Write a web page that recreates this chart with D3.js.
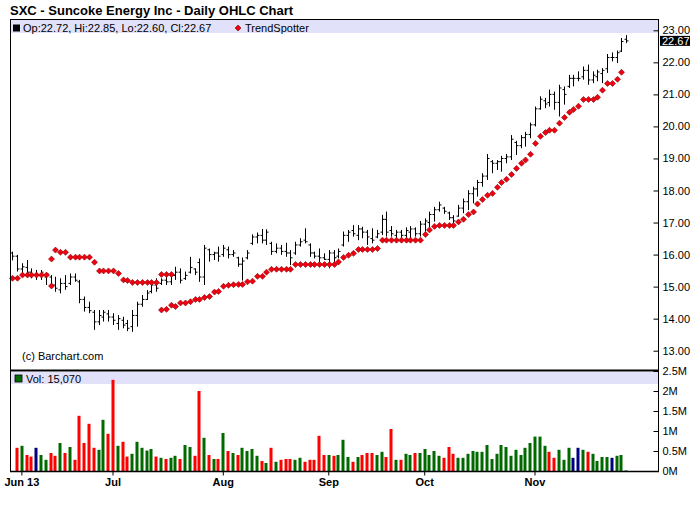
<!DOCTYPE html>
<html>
<head>
<meta charset="utf-8">
<title>SXC Daily OHLC</title>
<script src="https://cdn.jsdelivr.net/npm/d3@7"></script>
<style>
  body { margin: 0; background: #fff; }
  text { font-family: "Liberation Sans", Arial, sans-serif; }
</style>
</head>
<body>
<div id="chart"></div>
<script>
// trading days, May 30 - Nov 29 2013
var days = [
  "05-30","05-31",
  "06-03","06-04","06-05","06-06","06-07","06-10","06-11","06-12","06-13","06-14",
  "06-17","06-18","06-19","06-20","06-21","06-24","06-25","06-26","06-27","06-28",
  "07-01","07-02","07-03","07-05","07-08","07-09","07-10","07-11","07-12","07-15","07-16",
  "07-17","07-18","07-19","07-22","07-23","07-24","07-25","07-26","07-29","07-30","07-31",
  "08-01","08-02","08-05","08-06","08-07","08-08","08-09","08-12","08-13","08-14","08-15",
  "08-16","08-19","08-20","08-21","08-22","08-23","08-26","08-27","08-28","08-29","08-30",
  "09-03","09-04","09-05","09-06","09-09","09-10","09-11","09-12","09-13","09-16",
  "09-17","09-18","09-19","09-20","09-23","09-24","09-25","09-26","09-27","09-30",
  "10-01","10-02","10-03","10-04","10-07","10-08","10-09","10-10","10-11","10-14","10-15","10-16",
  "10-17","10-18","10-21","10-22","10-23","10-24","10-25","10-28","10-29","10-30","10-31",
  "11-01","11-04","11-05","11-06","11-07","11-08","11-11","11-12","11-13","11-14",
  "11-15","11-18","11-19","11-20","11-21","11-22","11-25","11-26","11-27","11-29"
];

var open = [
  16.05,15.95,15.55,15.60,15.45,15.38,15.35,15.30,15.30,15.05,
  14.90,15.10,15.10,15.30,15.15,14.60,14.35,14.20,13.90,14.05,
  14.15,14.05,13.85,13.95,13.85,13.75,14.10,14.45,14.60,14.85,
  15.05,15.10,15.20,15.15,15.35,15.45,15.25,15.45,15.55,15.75,
  15.30,16.15,16.00,16.05,16.00,16.15,16.00,15.90,15.70,15.90,
  16.35,16.55,16.60,16.45,16.35,16.10,16.20,16.10,16.05,16.05,
  16.30,16.45,16.30,16.05,15.95,15.90,15.85,16.05,15.95,16.30,
  16.60,16.75,16.60,16.80,16.70,16.50,16.55,16.70,17.10,16.75,
  16.60,16.70,16.60,16.70,16.80,16.65,16.95,17.00,17.25,17.40,
  17.45,17.30,17.15,17.20,17.45,17.65,17.90,18.05,18.25,18.45,
  18.90,18.85,18.90,19.00,19.05,19.50,19.40,19.65,19.75,20.05,
  20.55,20.80,20.75,21.00,20.75,21.15,21.25,21.50,21.50,21.55,
  21.75,21.45,21.55,21.65,21.80,22.15,22.15,22.35,22.72
];
var high = [
  16.09,15.99,15.73,15.83,15.57,15.52,15.52,15.43,15.36,15.31,
  15.26,15.36,15.41,15.41,15.21,14.69,14.53,14.27,14.27,14.27,
  14.27,14.17,14.11,14.06,13.96,14.27,14.53,14.74,14.89,15.15,
  15.26,15.26,15.31,15.41,15.62,15.57,15.47,15.93,15.57,15.88,
  16.30,16.19,16.09,16.25,16.30,16.25,16.14,15.93,15.91,16.14,
  16.63,16.69,16.80,16.79,16.40,16.35,16.30,16.37,16.14,16.40,
  16.51,16.82,16.35,16.09,16.19,16.04,16.14,16.14,16.19,16.72,
  16.77,16.92,16.92,16.87,16.77,16.82,16.77,17.24,17.34,16.89,
  16.77,16.77,16.85,16.89,16.85,17.05,17.13,17.34,17.49,17.65,
  17.49,17.34,17.23,17.55,17.75,18.01,18.12,18.33,18.54,19.14,
  18.95,18.95,19.08,19.14,19.73,19.55,19.73,19.83,20.12,20.62,
  20.94,20.89,21.15,21.09,21.30,21.25,21.61,21.61,21.72,21.87,
  21.93,21.72,21.77,21.82,22.26,22.31,22.37,22.76,22.85
];
var low = [
  15.82,15.47,15.36,15.31,15.26,15.21,15.21,15.05,14.99,14.84,
  14.79,14.90,15.05,15.15,14.48,14.22,14.17,13.65,13.80,13.91,
  13.91,13.80,13.65,13.70,13.61,13.59,13.75,14.37,14.58,14.79,
  14.84,15.05,15.05,15.05,15.21,15.10,15.21,15.41,15.36,15.15,
  15.05,15.78,15.83,15.78,15.93,15.88,15.93,15.62,15.19,15.85,
  16.30,16.35,16.35,16.30,15.99,16.04,15.99,15.93,15.67,15.99,
  16.25,16.35,15.93,15.88,15.62,15.83,15.57,15.67,15.88,16.25,
  16.40,16.56,16.45,16.51,16.30,16.35,16.51,16.61,16.56,16.56,
  16.45,16.51,16.45,16.45,16.56,16.56,16.71,16.85,17.03,17.34,
  17.27,17.08,16.97,17.18,17.29,17.39,17.60,17.81,18.12,18.33,
  18.54,18.64,18.59,18.85,18.95,19.11,19.32,19.37,19.63,20.00,
  20.52,20.57,20.62,20.52,20.31,20.68,21.20,21.25,21.41,21.46,
  21.30,21.35,21.41,21.35,21.67,22.03,21.98,22.32,22.60
];
var close = [
  15.95,15.55,15.62,15.45,15.38,15.38,15.45,15.40,15.05,14.95,
  15.10,15.00,15.30,15.20,14.60,14.35,14.25,13.90,14.10,14.20,
  14.05,13.95,14.00,13.80,13.70,14.10,14.45,14.60,14.80,15.05,
  14.95,15.20,15.15,15.35,15.45,15.20,15.35,15.60,15.45,15.30,
  16.20,16.00,16.05,15.95,16.20,16.00,16.05,15.70,15.80,16.05,
  16.55,16.60,16.45,16.70,16.10,16.20,16.10,16.05,15.90,16.30,
  16.40,16.40,16.05,15.95,15.90,15.85,16.05,15.90,16.10,16.60,
  16.70,16.65,16.80,16.70,16.55,16.45,16.65,17.10,16.70,16.65,
  16.70,16.60,16.75,16.80,16.65,16.95,17.05,17.25,17.40,17.55,
  17.35,17.15,17.05,17.45,17.65,17.90,18.05,18.25,18.45,19.00,
  18.85,18.90,19.00,19.05,19.60,19.40,19.65,19.75,20.05,20.55,
  20.85,20.70,21.00,20.75,21.20,21.00,21.50,21.50,21.50,21.75,
  21.45,21.60,21.70,21.75,22.15,22.15,22.30,22.65,22.67
];

// TrendSpotter: support below price / resistance above price
var trendLow = [
  15.26,15.26,15.36,15.36,15.36,15.36,15.36,15.36,15.02,null,
  null,null,null,null,null,null,null,null,null,null,
  null,null,null,null,null,null,null,null,null,null,
  null,14.27,14.29,14.42,14.38,14.49,14.49,14.53,14.60,14.60,
  14.66,14.69,14.83,14.85,15.01,15.04,15.06,15.07,15.07,15.15,
  15.17,15.32,15.32,15.45,15.54,15.54,15.54,15.54,15.54,15.69,
  15.69,15.69,15.69,15.69,15.69,15.69,15.69,15.69,15.77,15.91,
  15.98,16.04,16.16,16.16,16.16,16.16,16.19,16.45,16.45,16.45,
  16.45,16.45,16.45,16.45,16.45,16.45,16.63,16.77,16.88,16.91,
  16.91,16.91,16.91,17.02,17.10,17.25,17.33,17.58,17.72,17.85,
  17.91,18.10,18.25,18.35,18.50,18.69,18.85,18.95,19.13,19.47,
  19.69,19.81,19.88,19.88,20.10,20.28,20.44,20.53,20.63,20.84,
  20.84,20.84,20.91,21.13,21.34,21.34,21.47,21.69,null
];
var trendHigh = [
  null,null,null,null,null,null,null,null,15.86,16.14,
  16.07,16.07,15.92,15.92,15.92,15.92,15.92,15.76,15.49,15.49,
  15.49,15.49,15.41,15.21,15.19,15.13,15.13,15.13,15.13,15.13,
  15.13,15.38,15.38,15.38
];

// volume in millions of shares, and direction (u up, d down, n unchanged)
var volume = [
  null,0.58,0.63,0.40,0.36,0.58,0.40,0.28,0.45,0.38,
  0.70,0.45,0.60,0.28,1.38,0.70,1.18,0.58,0.53,1.28,
  0.93,2.28,0.63,0.73,0.36,0.43,0.73,0.58,0.51,0.55,
  0.36,0.33,0.30,0.33,0.38,0.30,0.65,0.60,0.38,2.00,
  0.83,0.40,0.30,0.30,0.95,0.50,0.45,0.40,0.58,0.50,
  0.55,0.38,0.25,0.20,0.58,0.23,0.28,0.30,0.30,0.28,
  0.33,0.23,0.28,0.28,0.88,0.40,0.40,0.38,0.40,0.78,
  0.35,0.23,0.35,0.40,0.45,0.45,0.40,0.48,0.35,1.05,
  0.28,0.28,0.43,0.40,0.45,0.45,0.55,0.40,0.50,0.38,
  0.33,0.60,0.43,0.33,0.33,0.43,0.50,0.48,0.48,0.65,
  0.30,0.43,0.65,0.60,0.38,0.53,0.40,0.58,0.70,0.86,
  0.86,0.63,0.48,0.33,0.53,0.28,0.58,0.33,0.58,0.53,
  0.48,0.43,0.25,0.35,0.35,0.33,0.38,0.40,0.015
];
var volDir = (
  "-duddnuudd" + "ududdddduu" + "ddudduuuuu" + "duduuduudd" + "ududududuu" +
  "uudududddu" + "uddddduduu" + "ududdduudd" + "uduuduuuuu" + "ddduuuuuuu" +
  "uuuuuuuuuu" + "uudduuunnu" + "duuuunuuu").split("");

var monthTicks = ["06-03", "06-28", "08-01", "09-03", "10-01", "11-01"];
var monthLabels = ["Jun 13", "Jul", "Aug", "Sep", "Oct", "Nov"];
var priceTicks = [13, 14, 15, 16, 17, 18, 19, 20, 21, 22, 23];
var volTicks = [0, 0.5, 1, 1.5, 2, 2.5];

var title = "SXC - Suncoke Energy Inc - Daily OHLC Chart";
var priceLegend = "Op:22.72, Hi:22.85, Lo:22.60, Cl:22.67";
var volLegend = "Vol: 15,070";
var lastPrice = 22.67;

var W = 700, H = 512;
var left = 10, right = 658;
var pTop = 19, pBot = 370, vTop = 371, vBot = 471;

var svg = d3.select("#chart").append("svg")
  .attr("width", W).attr("height", H);

svg.append("rect").attr("width", W).attr("height", H).attr("fill", "#fff");

var x = d3.scaleBand().domain(days).range([9.9, 628.5]).padding(0);
var bw = x.bandwidth();
function cx(d) { return Math.round(x(d) + bw / 2) + 0.5; }

var y = d3.scaleLinear().domain([13, 23]).range([350.7, 30.3]);
var yv = d3.scaleLinear().domain([0, 2.5]).range([vBot, vTop]);

// legend bands
svg.append("rect").attr("x", left + 1).attr("y", pTop + 1)
  .attr("width", right - left - 1).attr("height", 13).attr("fill", "#e1e1fa");
svg.append("rect").attr("x", left + 1).attr("y", vTop + 1)
  .attr("width", right - left - 1).attr("height", 12).attr("fill", "#e1e1fa");

// title
svg.append("text").attr("x", 10).attr("y", 15)
  .attr("font-size", 13).attr("font-weight", "bold").text(title);

// price legend
svg.append("rect").attr("x", 13).attr("y", 24.5).attr("width", 7).attr("height", 7).attr("fill", "#000");
svg.append("text").attr("x", 23).attr("y", 31.5).attr("font-size", 11).text(priceLegend);

function diamond(sel) {
  return sel.attr("d", "M0,-3L3,0L0,3L-3,0Z")
    .attr("fill", "#f00010").attr("stroke", "#8a0000").attr("stroke-width", 0.6);
}
diamond(svg.append("path").attr("transform", "translate(238,28)"));
svg.append("text").attr("x", 245).attr("y", 31.5).attr("font-size", 11).text("TrendSpotter");

svg.append("text").attr("x", 22).attr("y", 360).attr("font-size", 11).text("(c) Barchart.com");

// OHLC bars
var bars = svg.append("g").attr("stroke", "#000").attr("stroke-width", 1);
days.forEach(function(d, i) {
  var c = cx(d);
  bars.append("line").attr("x1", c).attr("x2", c)
    .attr("y1", y(high[i])).attr("y2", y(low[i]));
  bars.append("line").attr("x1", c - 2).attr("x2", c)
    .attr("y1", y(open[i])).attr("y2", y(open[i]));
  bars.append("line").attr("x1", c).attr("x2", c + 2)
    .attr("y1", y(close[i])).attr("y2", y(close[i]));
});

// TrendSpotter markers
var ts = svg.append("g");
[trendLow, trendHigh].forEach(function(arr) {
  arr.forEach(function(v, i) {
    if (v == null) return;
    diamond(ts.append("path").attr("transform", "translate(" + cx(days[i]) + "," + y(v) + ")"));
  });
});

// volume
var volColor = { u: "#006a00", d: "#ff0000", n: "#000080" };
svg.append("g").selectAll("rect")
  .data(days.filter(function(d, i) { return volume[i] != null; }))
  .enter().append("rect")
  .attr("x", function(d) { return cx(d) - 2; })
  .attr("width", 3)
  .attr("y", function(d) { return yv(volume[days.indexOf(d)]); })
  .attr("height", function(d) { return vBot - yv(volume[days.indexOf(d)]); })
  .attr("fill", function(d) { return volColor[volDir[days.indexOf(d)]]; });

svg.append("rect").attr("x", 15).attr("y", 375).attr("width", 7).attr("height", 7)
  .attr("fill", "#006a00").attr("stroke", "#000").attr("stroke-width", 0.8);
svg.append("text").attr("x", 26).attr("y", 383).attr("font-size", 11).text(volLegend);

// frame
var frame = svg.append("g").attr("stroke", "#000").attr("fill", "none");
frame.append("line").attr("x1", left).attr("x2", right).attr("y1", pTop + 0.5).attr("y2", pTop + 0.5);
frame.append("line").attr("x1", left + 0.5).attr("x2", left + 0.5).attr("y1", pTop).attr("y2", vBot);
frame.append("line").attr("x1", right + 0.5).attr("x2", right + 0.5).attr("y1", pTop).attr("y2", vBot);
frame.append("line").attr("x1", left).attr("x2", right).attr("y1", 370.5).attr("y2", 370.5).attr("stroke-width", 2);
frame.append("line").attr("x1", left).attr("x2", right + 1).attr("y1", vBot + 0.5).attr("y2", vBot + 0.5).attr("stroke-width", 1.5);

// right axes
function styleAxis(g) {
  g.select(".domain").remove();
  g.selectAll("text").attr("font-family", "Liberation Sans, Arial, sans-serif")
    .attr("font-size", 11).attr("fill", "#000");
  g.selectAll("line").attr("stroke", "#000");
}
svg.append("g").attr("transform", "translate(" + (right + 0.5) + ",0)")
  .call(d3.axisRight(y).tickValues(priceTicks).tickSize(-5).tickPadding(4).tickFormat(d3.format(".2f")))
  .call(styleAxis);
svg.append("g").attr("transform", "translate(" + (right + 0.5) + ",0)")
  .call(d3.axisRight(yv).tickValues(volTicks).tickSize(-5).tickPadding(4)
    .tickFormat(function(d) { return d + "M"; }))
  .call(styleAxis);

// last price marker
svg.append("rect").attr("x", 660).attr("y", y(lastPrice) - 5).attr("width", 30).attr("height", 10).attr("fill", "#000");
svg.append("text").attr("x", 662).attr("y", y(lastPrice) + 4).attr("font-size", 11)
  .attr("fill", "#fff").text(lastPrice.toFixed(2));

// month axis
svg.append("g").attr("transform", "translate(0," + (vBot + 0.5) + ")")
  .call(d3.axisBottom(x).tickValues(monthTicks).tickSize(4).tickPadding(3)
    .tickFormat(function(d) { return monthLabels[monthTicks.indexOf(d)]; }))
  .call(styleAxis)
  .selectAll("text").attr("font-weight", "bold");
</script>
</body>
</html>
